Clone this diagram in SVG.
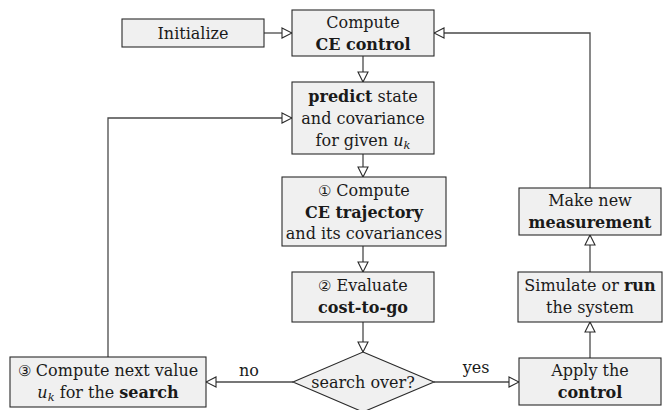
<svg xmlns="http://www.w3.org/2000/svg" width="670" height="410" viewBox="0 0 670 410">
<defs>
<style>
.box{fill:#f0f0f0;stroke:#2a2a2a;stroke-width:1.1}
.t{font-size:16px;fill:#1a1a1a;text-anchor:middle}
.b{font-weight:bold}
.i{font-style:italic}
.sub{font-size:11.5px;font-style:italic}
.c{font-size:15px}
.ln{fill:none;stroke:#4a4a4a;stroke-width:1.3}
</style>
<marker id="ah" markerUnits="userSpaceOnUse" markerWidth="12" markerHeight="12" viewBox="-1 -1 12 12" refX="10" refY="5" orient="auto">
<path d="M0,0 L10,5 L0,10 Z" fill="#fff" stroke="#2a2a2a" stroke-width="1.1"/>
</marker>
</defs>
<rect width="670" height="410" fill="#fff"/>
<g font-family="'DejaVu Serif', serif">
<g id="connectors">
<path class="ln" d="M264,33 H292" marker-end="url(#ah)"/>
<path class="ln" d="M363,56 V82" marker-end="url(#ah)"/>
<path class="ln" d="M363,154 V177" marker-end="url(#ah)"/>
<path class="ln" d="M363,246 V272" marker-end="url(#ah)"/>
<path class="ln" d="M363,322 V352" marker-end="url(#ah)"/>
<path class="ln" d="M293,382 H206" marker-end="url(#ah)"/>
<path class="ln" d="M434,382 H519" marker-end="url(#ah)"/>
<path class="ln" d="M108,357 V118 H292" marker-end="url(#ah)"/>
<path class="ln" d="M590,358 V322" marker-end="url(#ah)"/>
<path class="ln" d="M590,272 V235" marker-end="url(#ah)"/>
<path class="ln" d="M590,188 V33 H434" marker-end="url(#ah)"/>
<text class="t" x="249" y="376">no</text>
<text class="t" x="476" y="373">yes</text>
</g>
<g id="initialize">
<rect class="box" x="122" y="19" width="142" height="28"/>
<text class="t" x="193" y="38.5">Initialize</text>
</g>
<g id="compute-ce-control">
<rect class="box" x="292" y="10" width="142" height="46"/>
<text class="t" x="363" y="28">Compute</text>
<text class="t b" x="363" y="50">CE control</text>
</g>
<g id="predict">
<rect class="box" x="292" y="82" width="142" height="72"/>
<text class="t" x="363" y="102"><tspan class="b">predict</tspan> state</text>
<text class="t" x="363" y="124">and covariance</text>
<text class="t" x="363" y="146">for given <tspan class="i">u</tspan><tspan class="sub" dy="3">k</tspan></text>
</g>
<g id="ce-trajectory">
<rect class="box" x="282" y="177" width="164" height="69"/>
<text class="t" x="364" y="196"><tspan class="c">①</tspan> Compute</text>
<text class="t b" x="364" y="217.5">CE trajectory</text>
<text class="t" x="364" y="239">and its covariances</text>
</g>
<g id="evaluate">
<rect class="box" x="292" y="272" width="142" height="50"/>
<text class="t" x="363" y="291"><tspan class="c">②</tspan> Evaluate</text>
<text class="t b" x="363" y="313">cost-to-go</text>
</g>
<g id="search-over">
<polygon class="box" points="363,352 434,382 363,412 293,382"/>
<text class="t" x="363" y="388">search over?</text>
</g>
<g id="compute-next">
<rect class="box" x="10" y="357" width="196" height="50"/>
<text class="t" x="108" y="376"><tspan class="c">③</tspan> Compute next value</text>
<text class="t" x="108" y="397.5"><tspan class="i">u</tspan><tspan class="sub" dy="3">k</tspan><tspan dy="-3"> for the </tspan><tspan class="b">search</tspan></text>
</g>
<g id="apply-control">
<rect class="box" x="519" y="358" width="142" height="47"/>
<text class="t" x="590" y="376">Apply the</text>
<text class="t b" x="590" y="398">control</text>
</g>
<g id="simulate">
<rect class="box" x="518" y="272" width="144" height="50"/>
<text class="t" x="590" y="291">Simulate or <tspan class="b">run</tspan></text>
<text class="t" x="590" y="313">the system</text>
</g>
<g id="measurement">
<rect class="box" x="519" y="188" width="142" height="47"/>
<text class="t" x="590" y="206">Make new</text>
<text class="t b" x="590" y="228">measurement</text>
</g>
</g>
</svg>
